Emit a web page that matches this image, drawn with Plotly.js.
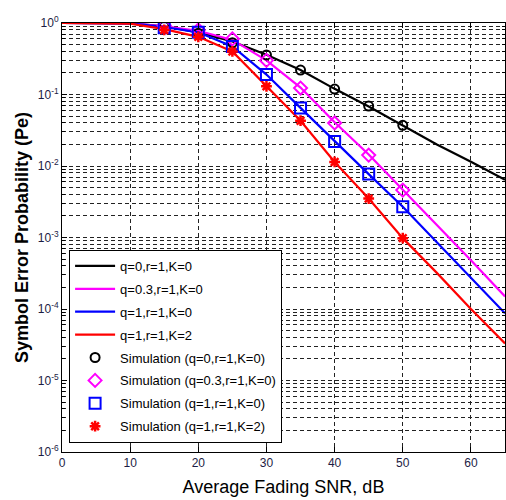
<!DOCTYPE html>
<html>
<head>
<meta charset="utf-8">
<script src="https://cdn.plot.ly/plotly-3.0.1.min.js"></script>
<style>html,body{margin:0;padding:0;background:#fff;}#chart{width:506px;height:500px;}</style>
</head>
<body>
<div id="chart"></div>
<script>
// Theory curves
var snrLine = [0, 5, 10, 15, 20, 25, 30, 35, 40, 45, 50, 55, 60, 65];
var peQ0K0 = [1, 1, 0.99, 0.9, 0.74, 0.55, 0.36, 0.22, 0.12, 0.068, 0.037, 0.02, 0.0115, 0.0064];
var peQ03K0 = [1, 1, 0.99, 0.9, 0.78, 0.58, 0.30, 0.125, 0.041, 0.0145, 0.0047, 0.0015, 0.00048, 0.00015];
var peQ1K0 = [1, 1, 0.99, 0.88, 0.74, 0.47, 0.19, 0.065, 0.022, 0.0077, 0.0027, 0.00085, 0.00027, 0.000087];
var peQ1K2 = [1, 1, 0.98, 0.82, 0.64, 0.40, 0.13, 0.043, 0.0114, 0.0035, 0.00098, 0.00032, 0.0001, 0.000033];
// Simulation points
var snrSim = [15, 20, 25, 30, 35, 40, 45, 50];
var simQ0K0 = [0.9, 0.72, 0.53, 0.357, 0.22, 0.119, 0.069, 0.037];
var simQ03K0 = [0.92, 0.80, 0.60, 0.30, 0.123, 0.040, 0.0142, 0.0046];
var simQ1K0 = [0.86, 0.74, 0.47, 0.19, 0.065, 0.022, 0.0077, 0.0027];
var simQ1K2 = [0.80, 0.64, 0.40, 0.13, 0.043, 0.0114, 0.0035, 0.00098];
var lineNames = ["q=0,r=1,K=0", "q=0.3,r=1,K=0", "q=1,r=1,K=0", "q=1,r=1,K=2"];
var simNames = ["Simulation (q=0,r=1,K=0)", "Simulation (q=0.3,r=1,K=0)", "Simulation (q=1,r=1,K=0)", "Simulation (q=1,r=1,K=2)"];
var xTicks = [0, 10, 20, 30, 40, 50, 60];
var decades = [-6, -5, -4, -3, -2, -1, 0];

var colors = ["#000000", "#ff00ff", "#0000ff", "#ff0000"];
var lineData = [peQ0K0, peQ03K0, peQ1K0, peQ1K2];
var simData = [simQ0K0, simQ03K0, simQ1K0, simQ1K2];
var symbols = ["circle-open", "diamond-open", "square-open", "asterisk-open"];
var sizes = [9, 10, 11, 9];

var traces = [];
for (var i = 0; i < 4; i++) {
  traces.push({x: snrLine, y: lineData[i], mode: "lines", name: lineNames[i], legendgroup: "l" + i,
    line: {color: colors[i], width: 2.2}});
}
for (var j = 0; j < 4; j++) {
  traces.push({x: snrSim, y: simData[j], mode: "markers", name: simNames[j], legendgroup: "s" + j,
    marker: {symbol: symbols[j], size: sizes[j], color: colors[j], line: {color: colors[j], width: j === 3 ? 2.5 : 2}}});
}

var yTickVals = decades.map(function (e) { return Math.pow(10, e); });
var yTickText = decades.map(function (e) { return "10<sup>" + e + "</sup>"; });

var gridDash = "4px,3px";
var layout = {
  width: 506, height: 500,
  margin: {l: 62, r: 1, t: 23, b: 48},
  paper_bgcolor: "#fff", plot_bgcolor: "#fff",
  showlegend: true,
  font: {family: "Arial, Liberation Sans, sans-serif", color: "#000"},
  xaxis: {
    range: [0, 65], tickvals: xTicks, ticks: "inside", ticklen: 5, tickcolor: "#000",
    showgrid: true, gridcolor: "#222", griddash: gridDash, gridwidth: 1,
    zeroline: false, showline: true, linecolor: "#000", linewidth: 1, mirror: "ticks",
    tickfont: {size: 12, color: "#1c1c44"},
    title: {text: "Average Fading SNR, dB", font: {size: 18, color: "#000"}, standoff: 10}
  },
  yaxis: {
    type: "log", range: [-6, 0], tickvals: yTickVals, ticktext: yTickText,
    ticks: "inside", ticklen: 5, tickcolor: "#000",
    showgrid: true, gridcolor: "#222", griddash: gridDash, gridwidth: 1,
    minor: {dtick: "D1", showgrid: true, gridcolor: "#222", griddash: gridDash, gridwidth: 1,
            ticks: "inside", ticklen: 3, tickcolor: "#000"},
    zeroline: false, showline: true, linecolor: "#000", linewidth: 1, mirror: "ticks",
    tickfont: {size: 12, color: "#1c1c44"},
    title: {text: "<b>Symbol Error Probability (Pe)</b>", font: {size: 18, color: "#000"}, standoff: 4}
  },
  legend: {
    x: 0.016, y: 0.471, xanchor: "left", yanchor: "top",
    bgcolor: "#fff", bordercolor: "#000", borderwidth: 1,
    font: {size: 13, color: "#000"}, tracegroupgap: 3, itemwidth: 40
  }
};

Plotly.newPlot("chart", traces, layout, {displayModeBar: false, staticPlot: true});
</script>
</body>
</html>
